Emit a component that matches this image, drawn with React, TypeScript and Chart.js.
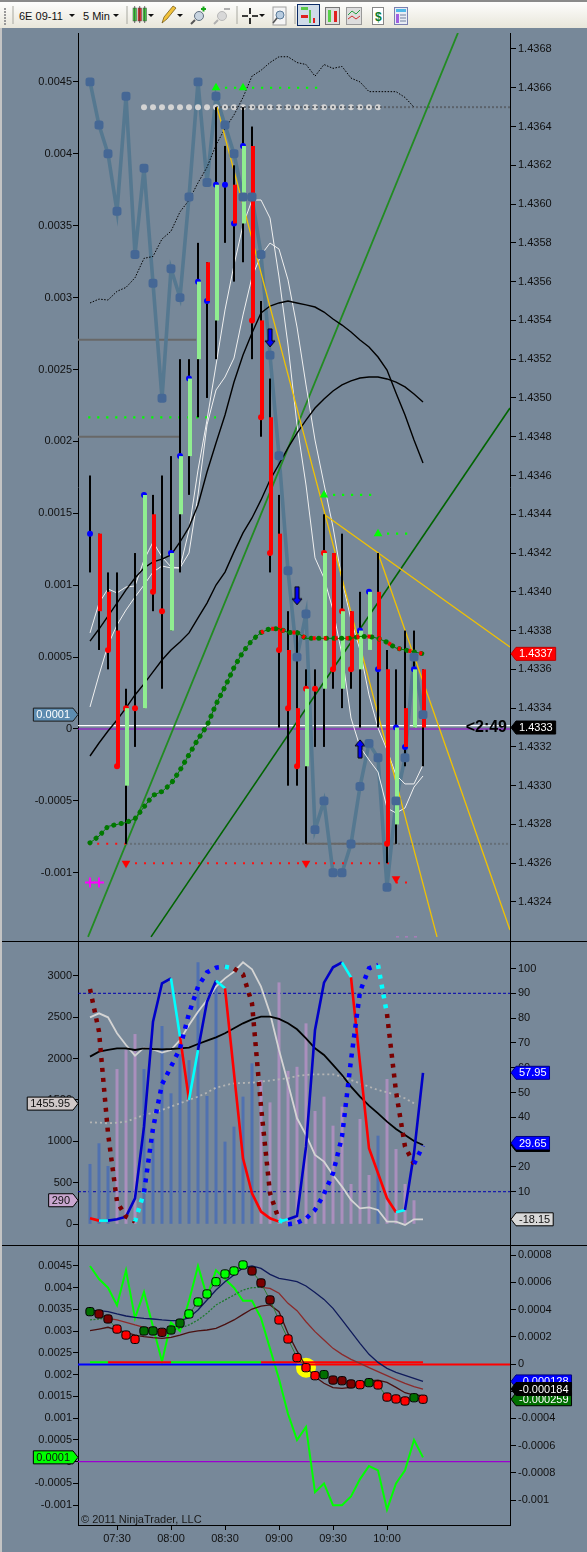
import React, { useEffect, useRef } from 'react';
import { Chart, registerables } from 'chart.js';
Chart.register(...registerables);

const barMinutes = [435,440,445,450,455,460,465,470,475,480,485,490,495,500,505,510,515,520,525,530,535,540,545,550,555,560,565,570,575,580,585,590,595,600,605,610,615,620];
const highs = [1.4346,1.4343,1.4341,1.4341,1.4335,1.4342,1.4345,1.4345,1.4346,1.4347,1.4352,1.4352,1.4358,1.4357,1.4365,1.4363,1.4362,1.4365,1.4364,1.4355,1.4351,1.4345,1.4339,1.4338,1.4336,1.4336,1.4344,1.4342,1.4343,1.4339,1.4340,1.4340,1.4342,1.4337,1.4336,1.4338,1.4338,1.4336];
const lows = [1.4341,1.4337,1.4336,1.4331,1.4327,1.4332,1.4334,1.4339,1.4335,1.4338,1.4341,1.4345,1.4349,1.4350,1.4352,1.4358,1.4356,1.4357,1.4352,1.4348,1.4341,1.4333,1.4330,1.4330,1.4327,1.4332,1.4332,1.4335,1.4334,1.4335,1.4333,1.4337,1.4333,1.4326,1.4327,1.4331,1.4333,1.4331];
const opens = [1.4343,1.4343,1.4340,1.4338,1.4330,1.4334,1.4334,1.4344,1.4339,1.4338,1.4344,1.4347,1.4352,1.4357,1.4354,1.4361,1.4361,1.4359,1.4363,1.4354,1.4349,1.4343,1.4337,1.4334,1.4331,1.4335,1.4335,1.4342,1.4335,1.4339,1.4336,1.4337,1.4340,1.4336,1.4328,1.4334,1.4333,1.4336];
const closes = [1.4343,1.4339,1.4337,1.4331,1.4334,1.4334,1.4345,1.4340,1.4339,1.4342,1.4347,1.4351,1.4356,1.4355,1.4361,1.4361,1.4359,1.4363,1.4354,1.4349,1.4342,1.4337,1.4334,1.4331,1.4335,1.4335,1.4342,1.4336,1.4339,1.4336,1.4338,1.4340,1.4336,1.4327,1.4333,1.4332,1.4336,1.4333];
const closeDotState = ['b','','r','r','r','r','b','r','r','b','b','b','b','b','b','b','b','b','r','r','r','r','r','r','r','r','r','r','r','r','b','b','b','r','b','b','b',''];
const momentum = [0.0045,0.0042,0.0040,0.0036,0.0044,0.0033,0.0039,0.0031,0.0023,0.0032,0.0030,0.0037,0.0045,0.0038,0.0044,0.0042,0.0040,0.0037,0.0037,0.0033,0.0026,0.0019,0.0011,0.0005,0.0008,-0.0007,-0.0005,-0.0010,-0.0010,-0.0008,-0.0004,-0.0001,-0.0002,-0.0011,-0.0005,-0.0002,0.0005,0.0001];
const upperDotted = [1.43549,1.43551,1.435505,1.43555,1.43557,1.43562,1.43572,1.43573,1.43582,1.43586,1.43596,1.43602,1.43611,1.43619,1.436305,1.43639,1.43646,1.43655,1.43666,1.43669,1.43673,1.43676,1.43676,1.43673,1.43672,1.43666,1.43672,1.4367,1.43671,1.43665,1.43663,1.43658,1.43658,1.43658,1.43658,1.43655,1.4365];
const fastAvg = [1.433746,1.433808,1.433875,1.433942,1.43401,1.434071,1.434123,1.434154,1.434169,1.43419,1.434257,1.434334,1.434448,1.434618,1.434768,1.434912,1.435082,1.435222,1.435335,1.435438,1.435474,1.43549,1.4355,1.43549,1.43548,1.435469,1.435443,1.435407,1.435376,1.43534,1.435299,1.435263,1.435211,1.435144,1.435026,1.434912,1.434783,1.434665];
const slowAvg = [1.433153,1.43322,1.433282,1.433339,1.433401,1.433468,1.433525,1.433587,1.433648,1.4337,1.433741,1.433788,1.433865,1.433942,1.434035,1.434102,1.434206,1.434304,1.434381,1.434474,1.434577,1.434659,1.434742,1.434819,1.434886,1.434948,1.434995,1.435036,1.435067,1.435088,1.435103,1.435108,1.435108,1.435098,1.435082,1.435057,1.43502,1.434979];
const whiteA = [1.433788,1.433942,1.434015,1.433994,1.434025,1.43403,1.434164,1.434257,1.43418,1.434128,1.434123,1.434319,1.434628,1.434886,1.43517,1.435454,1.435686,1.435892,1.436021,1.436021,1.435928,1.435624,1.435273,1.434861,1.434551,1.434175,1.434071,1.433906,1.433674,1.433349,1.4332,1.433133,1.433071,1.432885,1.432859,1.432885,1.432993,1.43305];
const whiteB = [1.433406,1.433571,1.433726,1.433829,1.433906,1.433973,1.434035,1.434102,1.434133,1.434123,1.434123,1.4342,1.4345,1.434861,1.435041,1.435108,1.435206,1.435428,1.435624,1.435737,1.435799,1.435768,1.435609,1.435366,1.435067,1.434783,1.434556,1.434334,1.434061,1.433855,1.4337,1.433468,1.433298,1.433184,1.433055,1.433009,1.433009,1.433107];
const signalAvg = [1.432705,1.43274,1.43279,1.4328,1.43281,1.43283,1.43289,1.43295,1.43297,1.43301,1.43308,1.43316,1.43324,1.43331,1.43342,1.43351,1.43361,1.43369,1.43375,1.43379,1.43381,1.43381,1.43379,1.43379,1.43376,1.43376,1.43376,1.43376,1.43376,1.43376,1.43377,1.43377,1.43376,1.43374,1.43371,1.4337,1.43369,1.43368];

const trendGreen = [[433.9,1.43222],[639.4,1.436883]];
const trendDarkGreen = [[468.9,1.43222],[668.33,1.434948]];
const trendYellowA = [[505.6,1.4365],[627.8,1.43222]];
const trendYellowB = [[565,1.4344],[668.33,1.433715]];
const trendYellowC = [[595,1.4342],[668.33,1.432256]];
const greenLevels = [[505,565,1.4366],[434,505,1.4349],[565,595,1.4345],[595,615,1.4343]];
const redLevels = [[434,455,1.4327],[455,605,1.4326],[605,615,1.4325]];
const greyLevels = [[428.33,494,1.4353],[428.33,485,1.4348],[555,605,1.4327]];
const upTriangles = [[505,1.4366],[520,1.4366],[565,1.4345],[595,1.4343]];
const downTriangles = [[455,1.4326],[555,1.4326],[605,1.43252]];
const crossMarks = [[435,1.4325],[440,1.4325]];
const downArrows = [[535,1.43531],[550,1.43398]];
const upArrows = [[585,1.43319]];
const pivotDotMinutes = [465,470,475,480,485,490,495,500,505,510,515,520,525,530,535,540,545,550,555,560,565,570,575,580,585,590,595];
const pivotLevel = 1.4365;
const lastPrice = 1.43331;

const volumeHist = [728,977,703,1873,2102,2295,1873,1037,2392,1580,2050,1980,3160,1548,2906,997,1178,1540,1942,1740,1471,2918,1850,1900,2424,1367,1540,1190,1420,486,1270,595,1069,1753,908,486,290,null];
const volumeState = 'bbbpppbbbbbbbbbbbbbpppppppppppppbppppp'.split('');
const stochK = [-0.72,-1.66,-1.66,-1.13,-0.05,7.34,36.24,78.57,94.03,96.04,72.52,46.99,67.15,86.64,95.1,92.01,57.74,23.47,9.36,1.96,-0.72,-2.07,-1.13,0.22,28.17,75.21,94.3,100.48,102.5,96.45,61.77,27.5,17.42,7.34,1.7,2.64,25.48,57.95];
const stochD = [91.74,74.54,33.55,5.99,-0.05,-2.07,9.76,35.56,53.3,60.43,67.82,81.93,92.68,98.46,100.34,100.75,99.94,97.66,85.96,44.3,9.36,-1.4,-3.14,-2.61,-0.86,2.64,9.09,17.42,32.2,63.12,90.67,100.08,101.42,81.66,50.35,28.17,21.18,28.58];
const kState = 'rcbbbbbbbcrcbbcrrrrrrcbbbbbbcrrrrrcbb'.split('');
const dState = 'dddddcbbbbbbbbbcdddddcbbbbbbbbbbcdddb'.split('');
const midBlack = [64.46,66.48,67.15,67.82,67.82,67.15,67.82,67.55,67.42,67.55,67.82,68.09,69.57,70.91,72.26,73.87,75.88,77.9,79.51,80.59,80.59,79.65,77.9,75.48,71.85,67.82,65.13,61.1,57.07,52.36,48.33,44.7,41.61,38.25,35.3,32.88,30.46,28.84];
const midLight = [80.32,81.93,80.32,73.87,69.16,64.86,68.09,67.42,66.07,67.15,71.18,77.23,82.6,87.31,92.68,96.04,98.73,102.5,99.67,92.68,81.93,67.15,53.71,39.6,32.88,24.81,22.12,16.75,12.04,6.67,3.31,3.71,2.64,-2.07,-2.07,-3.41,-1.13,-1.13];
const midDotted = [37.98,37.85,37.58,37.85,38.25,39.6,40.94,41.88,42.96,44.3,45.64,46.99,48.33,49.94,51.96,52.9,53.71,53.84,53.98,54.38,54.78,55.32,55.72,56.66,57.07,57.34,57.34,57.34,56.4,55.05,53.71,52.36,51.02,50.08,49.0,47.66,45.64];
const stochLevels = [90, 10];

const bandUpper = [0.000392,0.000392,0.000385,0.000368,0.000353,0.000343,0.000336,0.000331,0.000324,0.000319,0.000319,0.000341,0.000397,0.000471,0.000544,0.000605,0.000654,0.000708,0.000721,0.000703,0.000659,0.00063,0.000618,0.000605,0.000574,0.000525,0.000475,0.000409,0.000324,0.000238,0.000152,0.000071,0.000012,-0.000032,-0.000061,-0.000083,-0.000105,-0.000128];
const bandMiddle = [0.000324,0.000331,0.000336,0.000324,0.000306,0.000287,0.00027,0.000262,0.00025,0.00025,0.000262,0.000287,0.000324,0.000373,0.000434,0.000471,0.000507,0.000544,0.000561,0.000564,0.000556,0.00052,0.000446,0.000392,0.000311,0.000238,0.000176,0.000115,0.000071,0.000034,0.000005,-0.000027,-0.000056,-0.000086,-0.000115,-0.000142,-0.000167,-0.000184];
const bandLower = [0.000245,0.000257,0.00027,0.00025,0.000233,0.000213,0.000201,0.000194,0.000189,0.000196,0.000213,0.000233,0.000243,0.00025,0.000262,0.000292,0.000324,0.000365,0.000404,0.000426,0.000434,0.000385,0.000225,0.000096,-0.00002,-0.000093,-0.000142,-0.000174,-0.000179,-0.000172,-0.000142,-0.000125,-0.000118,-0.000135,-0.000172,-0.000211,-0.000228,-0.000233];
const macdDots = [0.000385,0.000368,0.000331,0.000257,0.000213,0.000181,0.000243,0.000243,0.000233,0.00025,0.000301,0.000368,0.000456,0.000515,0.000605,0.000662,0.000684,0.000728,0.000684,0.000596,0.000471,0.000324,0.000184,0.000047,-0.000027,-0.000086,-0.000078,-0.000118,-0.000123,-0.000147,-0.000152,-0.000137,-0.000154,-0.000243,-0.000257,-0.000272,-0.000248,-0.000259];
const macdState = ['g','d','d','r','r','r','g','g','d','g','g','l','l','l','l','l','l','l','d','d','d','r','r','r','r','r','g','d','d','d','r','g','r','r','r','r','g','r'];
const stripeState = 'ggrrrrrrrggggggggggrrrrrrrrrrrrrrrrrr'.split('');
const stripeValues = [0.000013,0.000013,0.000013,0.000013,0.000013,0.000013,0.000013,0.000013,0.000013,0.000013,0.000013,0.000013,0.000013,0.000013,0.000013,0.000013,0.000013,0.000013,0.000013,0.000013,0.000013,0.000013,0.000013,0.000013,0.000013,0.000013,0.000013,0.000013,0.000013,0.000013,0.000013,0.000013,0.000013,0.000013,0.000013,0.000013,0.000013,0.000013];
const crossoverMinute = [[555,-0.000027]];

const timeTicks = [450,480,510,540,570,600];
const momentumTicks = [0.0045,0.004,0.0035,0.003,0.0025,0.002,0.0015,0.001,0.0005,0,-0.0005,-0.001];
const priceTicks = [1.4368,1.4366,1.4364,1.4362,1.436,1.4358,1.4356,1.4354,1.4352,1.435,1.4348,1.4346,1.4344,1.4342,1.434,1.4338,1.4336,1.4334,1.4332,1.433,1.4328,1.4326,1.4324];
const volumeTicks = [3000,2500,2000,1500,1000,500,0];
const stochTicks = [100,90,80,70,60,50,40,30,20,10];
const macdTicks = [0.0008,0.0006,0.0004,0.0002,0,-0.0002,-0.0004,-0.0006,-0.0008,-0.001];

const FONT = '"Liberation Sans"';
const SIGN: any = { b: '#0000ff', r: '#ff0000', '': 'rgba(0,0,0,0)' };
const K_COL: any = { r: '#ff0000', c: '#00ffff', b: '#0000c8', d: '#7a0000' };
const D_COL: any = { d: '#7a0000', c: '#00ffff', b: '#0000ff' };
const DOT_COL: any = { g: '#006f00', d: '#7a0000', r: '#ff0000', l: '#00ff00' };
const STRIPE: any = { g: '#00ff00', r: '#ff0000' };

const at = (vals: any[]) => vals.map((y, i) => ({ x: barMinutes[i], y }));
const seg = (pairs: number[][]) => pairs.map(([x, y]) => ({ x, y }));
const line = (data: any[], yAxisID: string, color: string, width: number, extra: any = {}) => ({
  type: 'line', data, yAxisID, xAxisID: 'x', borderColor: color, borderWidth: width, pointRadius: 0, tension: 0, fill: false, ...extra,
});
const points = (data: any[], yAxisID: string, color: any, style: any, radius: number, extra: any = {}) => ({
  type: 'line', data, yAxisID, xAxisID: 'x', showLine: false, pointStyle: style, pointRadius: radius,
  pointBackgroundColor: color, pointBorderColor: color, pointBorderWidth: 0, ...extra,
});
const levelPair = ([a, b, p]: number[]) => [{ x: a, y: p }, { x: b, y: p }];

function makeArrow(up: boolean) {
  const c = document.createElement('canvas');
  c.width = 12; c.height = 20;
  const g = c.getContext('2d')!;
  g.save();
  if (up) { g.translate(0, 20); g.scale(1, -1); }
  g.beginPath();
  g.moveTo(4, 1); g.lineTo(8, 1); g.lineTo(8, 13); g.lineTo(11, 13); g.lineTo(6, 19); g.lineTo(1, 13); g.lineTo(4, 13); g.closePath();
  g.fillStyle = '#0000ff'; g.fill();
  g.strokeStyle = '#000'; g.lineWidth = 1; g.stroke();
  g.restore();
  return c;
}

function yScale(position: string, min: number, max: number, values: number[], fmt: any, width: number, tickLength: number, pad: number) {
  return {
    type: 'linear', position, min, max,
    afterBuildTicks: (s: any) => { s.ticks = values.map((value) => ({ value })); },
    afterFit: (s: any) => { s.width = width; s.paddingTop = 0; s.paddingBottom = 0; },
    border: { display: true, color: '#000', width: 1 },
    grid: { drawOnChartArea: false, drawTicks: true, tickLength, tickColor: '#000', tickWidth: 1 },
    ticks: { autoSkip: false, padding: pad, color: '#101010', font: { family: FONT, size: 11 }, callback: fmt },
  };
}
const xHidden = { type: 'linear', min: 428.33, max: 668.33, offset: false, display: false, grid: { offset: false } };
const fmtPlain = (v: number) => String(v);
const fmt4 = (v: number) => v.toFixed(4);

function drawTag(ctx: any, y: number, side: string, label: string, fill: string, text: string, stroke = '#000') {
  ctx.save();
  ctx.font = `11px ${FONT}`;
  const w = ctx.measureText(label).width + 6;
  const h = 13, tip = side === 'left' ? 78 : 511, dir = side === 'left' ? -1 : 1;
  ctx.beginPath();
  ctx.moveTo(tip, y);
  ctx.lineTo(tip + dir * 5, y - h / 2);
  ctx.lineTo(tip + dir * (5 + w), y - h / 2);
  ctx.lineTo(tip + dir * (5 + w), y + h / 2);
  ctx.lineTo(tip + dir * 5, y + h / 2);
  ctx.closePath();
  ctx.fillStyle = fill; ctx.fill();
  ctx.lineWidth = 1; ctx.strokeStyle = stroke; ctx.stroke();
  ctx.fillStyle = text; ctx.textBaseline = 'middle'; ctx.textAlign = 'left';
  ctx.fillText(label, side === 'left' ? tip - 5 - w + 3 : tip + 5 + 3, y + 0.5);
  ctx.restore();
}

function tagPlugin(tags: any[], extra?: (c: any) => void) {
  return {
    id: 'tags',
    afterDraw(c: any) {
      for (const t of tags) {
        const y = c.scales[t.axis].getPixelForValue(t.value);
        drawTag(c.ctx, y, t.axis === 'yL' ? 'left' : 'right', t.label, t.fill, t.text, t.stroke);
      }
      if (extra) extra(c);
    },
  };
}

const baseOptions = (scales: any) => ({
  responsive: false, animation: false, events: [], maintainAspectRatio: false,
  layout: { padding: 0, autoPadding: false },
  plugins: { legend: { display: false }, tooltip: { enabled: false }, title: { display: false } },
  scales,
});

export default function App() {
  const topRef = useRef<HTMLCanvasElement>(null);
  const midRef = useRef<HTMLCanvasElement>(null);
  const botRef = useRef<HTMLCanvasElement>(null);

  useEffect(() => {
    const topDatasets: any[] = [
      points(at(momentum), 'yL', '#456795', 'rectRounded', 5.2),
      points(seg(downArrows), 'yR', '#00f', makeArrow(false), 10),
      points(seg(upArrows), 'yR', '#00f', makeArrow(true), 10),
      points(seg(upTriangles), 'yR', '#00ff00', 'triangle', 5),
      points(seg(downTriangles), 'yR', '#ff0000', 'triangle', 5, { pointRotation: 180 }),
      points(seg(crossMarks), 'yR', '#ff00ff', 'cross', 5, { pointBorderWidth: 2 }),
      line(at(signalAvg.map((v, i) => (i >= 19 ? v : null))), 'yR', '#ff0000', 4, { borderDash: [3, 8] }),
      line(at(signalAvg), 'yR', '#007800', 5, { borderDash: [0.1, 7.5], borderCapStyle: 'round' }),
      line(at(signalAvg), 'yR', '#007800', 1),
      {
        type: 'bar', yAxisID: 'yR', xAxisID: 'x', grouped: false, barThickness: 4, borderWidth: 0, inflateAmount: 0,
        data: barMinutes.map((x, i) => ({ x: x + 0.55, y: [opens[i], closes[i]] })),
        backgroundColor: closes.map((c, i) => (c >= opens[i] ? '#90ee90' : '#ff0000')),
      },
      points(at(closes), 'yR', closeDotState.map((s) => SIGN[s]), 'circle', 3),
      {
        type: 'bar', yAxisID: 'yR', xAxisID: 'x', grouped: false, barThickness: 2, borderWidth: 0, inflateAmount: 0,
        data: barMinutes.map((x, i) => ({ x, y: [lows[i], highs[i]] })),
        backgroundColor: '#000000',
      },
      line(seg(trendYellowA), 'yR', '#f2c200', 1.3),
      line(seg(trendYellowB), 'yR', '#f2c200', 1.3),
      line(seg(trendYellowC), 'yR', '#f2c200', 1.3),
      line(at(fastAvg), 'yR', '#000000', 1.4),
      line(at(slowAvg), 'yR', '#000000', 1.4),
      line(at(whiteA), 'yR', '#f0f0f0', 1),
      line(at(whiteB), 'yR', '#f0f0f0', 1),
      line(at(upperDotted), 'yR', '#000000', 1, { borderDash: [1.5, 1.5] }),
      ...greenLevels.map((l) => line(levelPair(l), 'yR', '#00ff00', 2.2, { borderDash: [2.2, 6.8] })),
      ...redLevels.map((l) => line(levelPair(l), 'yR', '#ff1010', 2, { borderDash: [2, 7] })),
      line(seg(trendGreen), 'yR', '#228b22', 1.8),
      line(seg(trendDarkGreen), 'yR', '#006400', 1.6),
      line(levelPair([505, 668.33, pivotLevel]), 'yR', '#5c636b', 2, { borderDash: [2, 2] }),
      points(pivotDotMinutes.map((x) => ({ x, y: pivotLevel })), 'yR', '#d3d3d3', 'circle', 3),
      line(at(momentum), 'yL', '#557890', 3.6, { borderJoinStyle: 'miter' }),
      ...greyLevels.map((l) => line(levelPair(l), 'yR', '#686868', 2)),
      line(levelPair([455, 668.33, 1.4327]), 'yR', '#666f78', 2, { borderDash: [2, 2] }),
      line(levelPair([605, 620, 1.43222]), 'yR', '#c078c8', 1, { borderDash: [3, 6] }),
      line(levelPair([428.33, 668.33, lastPrice]), 'yR', '#ffffff', 1.2),
      line(levelPair([428.33, 668.33, 0]), 'yL', '#9a00d0', 1.1),
    ];
    const top = new Chart(topRef.current as any, {
      type: 'line',
      data: { datasets: topDatasets },
      options: baseOptions({
        x: xHidden,
        yL: yScale('left', -0.0014743, 0.00484, momentumTicks, fmtPlain, 78, 5, 1),
        yR: yScale('right', 1.4321988, 1.4368825, priceTicks, fmt4, 77, 6, 2),
      }) as any,
      plugins: [tagPlugin([
        { axis: 'yL', value: 0.0001, label: '0.0001', fill: '#5d8cb0', text: '#ffffff', stroke: '#1a1a1a' },
        { axis: 'yR', value: 1.43368, label: '1.4337', fill: '#ff0000', text: '#ffffff', stroke: '#c00000' },
        { axis: 'yR', value: 1.4333, label: '1.4333', fill: '#000000', text: '#ffffff', stroke: '#000' },
      ], (c: any) => {
        const g = c.ctx;
        g.save();
        g.font = `bold 16px ${FONT}`;
        g.textAlign = 'right'; g.textBaseline = 'middle'; g.fillStyle = '#000';
        g.fillText('<2:49', 507, c.scales.yR.getPixelForValue(1.4333) + 0.5);
        g.restore();
      })] as any,
    });

    const midDatasets: any[] = [
      line(at(stochD), 'yR', '#0000ff', 4.5, {
        borderDash: [4, 6],
        segment: { borderColor: (ctx: any) => D_COL[dState[ctx.p0DataIndex]] },
      }),
      line(at(stochK), 'yR', '#0000c8', 2.6, {
        segment: { borderColor: (ctx: any) => K_COL[kState[ctx.p0DataIndex]] },
      }),
      line(at(midBlack), 'yR', '#000000', 1.8),
      line(at(midLight), 'yR', '#d4d4d4', 1.8),
      line(at(midDotted), 'yR', '#b4b4b4', 1.8, { borderDash: [2, 3] }),
      {
        type: 'bar', yAxisID: 'yL', xAxisID: 'x', grouped: false, barThickness: 3, borderWidth: 0, inflateAmount: 0,
        data: at(volumeHist),
        backgroundColor: volumeState.map((s) => (s === 'b' ? '#5071b0' : '#aa8fbd')),
      },
      ...stochLevels.map((l) => line(levelPair([428.33, 668.33, l]), 'yR', '#0000b0', 1, { borderDash: [3, 2] })),
    ];
    const mid = new Chart(midRef.current as any, {
      type: 'line',
      data: { datasets: midDatasets },
      options: baseOptions({
        x: xHidden,
        yL: yScale('left', -249.7, 3417.4, volumeTicks, fmtPlain, 78, 5, 1),
        yR: yScale('right', -11.49, 111.09, stochTicks, fmtPlain, 77, 6, 2),
      }) as any,
      plugins: [tagPlugin([
        { axis: 'yL', value: 1455.95, label: '1455.95', fill: '#cfc8c8', text: '#111' },
        { axis: 'yL', value: 290, label: '290', fill: '#c9a6cf', text: '#111' },
        { axis: 'yR', value: 57.95, label: '57.95', fill: '#0000ff', text: '#ffffff', stroke: '#000080' },
        { axis: 'yR', value: 28.84, label: '28.84', fill: '#000000', text: '#ffffff' },
        { axis: 'yR', value: 29.65, label: '29.65', fill: '#0000ff', text: '#ffffff', stroke: '#000080' },
        { axis: 'yR', value: -1.13, label: '-18.15', fill: '#d8d8d8', text: '#111' },
      ])] as any,
    });

    const botDatasets: any[] = [
      line(at(macdDots), 'yR', '#2e7d32', 1, {
        pointStyle: 'rectRounded', pointRadius: 4.8, pointBorderColor: '#000', pointBorderWidth: 1,
        pointBackgroundColor: macdState.map((s) => DOT_COL[s]),
      }),
      line(at(bandUpper), 'yR', '#0f1a5a', 1.3),
      line(at(bandMiddle), 'yR', '#8b2a2a', 1.3, {
        segment: {
          borderColor: (ctx: any) => (stripeState[ctx.p0DataIndex] === 'g' ? '#1e7a2e' : '#8b2a2a'),
          borderDash: (ctx: any) => (stripeState[ctx.p0DataIndex] === 'g' ? [2, 1.5] : []),
        },
      }),
      line(at(bandLower), 'yR', '#4a1010', 1.3),
      line(at(stripeValues), 'yR', '#ff0000', 2, {
        segment: { borderColor: (ctx: any) => STRIPE[stripeState[ctx.p0DataIndex]] },
      }),
      line(levelPair([555, 668.33, -0.000004]), 'yR', '#ff0000', 2),
      line(levelPair([428.33, 555, -0.000004]), 'yR', '#0000ff', 2),
      points(seg(crossoverMinute), 'yR', '#ffff00', 'circle', 10),
      line(at(momentum), 'yL', '#00ff00', 2, { borderJoinStyle: 'miter' }),
      line(levelPair([428.33, 668.33, 0]), 'yL', '#9a00d0', 1.2),
    ];
    const bot = new Chart(botRef.current as any, {
      type: 'line',
      data: { datasets: botDatasets },
      options: baseOptions({
        x: {
          type: 'linear', min: 428.33, max: 668.33, offset: false, position: 'bottom',
          afterBuildTicks: (s: any) => { s.ticks = timeTicks.map((value) => ({ value })); },
          afterFit: (s: any) => { s.height = 27; s.paddingLeft = 0; s.paddingRight = 0; },
          border: { display: true, color: '#000', width: 1 },
          grid: { drawOnChartArea: false, drawTicks: true, tickLength: 5, tickColor: '#000', offset: false },
          ticks: {
            autoSkip: false, maxRotation: 0, padding: 2, color: '#101010', font: { family: FONT, size: 11 },
            callback: (v: number) => `${String(Math.floor(v / 60)).padStart(2, '0')}:${String(v % 60).padStart(2, '0')}`,
          },
        },
        yL: yScale('left', -0.0014552, 0.0049816, momentumTicks, fmtPlain, 78, 5, 1),
        yR: yScale('right', -0.0011838, 0.000875, macdTicks, fmtPlain, 77, 6, 2),
      }) as any,
      plugins: [tagPlugin([
        { axis: 'yL', value: 0.0001, label: '0.0001', fill: '#00ff00', text: '#111' },
        { axis: 'yR', value: -0.000128, label: '-0.000128', fill: '#0000ff', text: '#ffffff', stroke: '#000080' },
        { axis: 'yR', value: -0.000259, label: '-0.000259', fill: '#006f00', text: '#ffffff' },
        { axis: 'yR', value: -0.000184, label: '-0.000184', fill: '#000000', text: '#ffffff' },
      ], (c: any) => {
        const g = c.ctx;
        g.save();
        g.font = `11px ${FONT}`;
        g.fillStyle = '#1a1a1a'; g.textAlign = 'left'; g.textBaseline = 'alphabetic';
        g.fillText('© 2011 NinjaTrader, LLC', 81, 1523 - 1245);
        g.restore();
      })] as any,
    });
    return () => { top.destroy(); mid.destroy(); bot.destroy(); };
  }, []);

  const abs = (left: number, top: number, width: number, height: number, background: string): React.CSSProperties =>
    ({ position: 'absolute', left, top, width, height, background });
  const caret = (x: number) => <path d={`M${x - 3} 14 h6 l-3 3 z`} fill="#111" />;
  const sep = (x: number) => <line x1={x} x2={x} y1={6} y2={24} stroke="#a8a8a0" />;

  return (
    <div style={{ position: 'absolute', left: 0, top: 0, width: 587, height: 1552, background: '#778899', overflow: 'hidden' }}>
      <svg width={587} height={28} style={{ position: 'absolute', left: 0, top: 0, display: 'block' }}>
        <defs>
          <linearGradient id="tb" x1="0" x2="0" y1="0" y2="1">
            <stop offset="0" stopColor="#ffffff" />
            <stop offset="1" stopColor="#e8e6da" />
          </linearGradient>
        </defs>
        <rect x={0} y={0} width={587} height={28} fill="url(#tb)" />
        <rect x={0} y={0} width={587} height={2} fill="#8a8a8a" />
        <g fill="#999">{[8, 11, 14, 17, 20, 23].map((y) => <rect key={y} x={4} y={y} width={2} height={2} />)}</g>
        {sep(13)}
        <text x={19} y={20} fontFamily="Liberation Sans" fontSize={11} fill="#111">6E 09-11</text>
        {caret(72)}
        <text x={83} y={20} fontFamily="Liberation Sans" fontSize={11} fill="#111">5 Min</text>
        {caret(116)}
        {sep(127)}
        <g>
          <rect x={133} y={8} width={3.5} height={13} fill="#44dd44" stroke="#444" strokeWidth={0.5} />
          <rect x={138} y={8} width={3.5} height={13} fill="#ee3333" stroke="#444" strokeWidth={0.5} />
          <rect x={143} y={8} width={3.5} height={13} fill="#44dd44" stroke="#444" strokeWidth={0.5} />
          <path d="M134.7 6V23M139.7 6V23M144.7 6V23" stroke="#333" strokeWidth={0.7} />
        </g>
        {caret(151)}
        <path d="M162 23 l2 -6 l9 -11 l3 2 l-9 11 z" fill="#f2c23a" stroke="#6a5010" strokeWidth={0.7} />
        {caret(180)}
        <circle cx={199} cy={16} r={4.5} fill="#c8d4e0" stroke="#607080" />
        <line x1={195} y1={20} x2={191} y2={24} stroke="#555" strokeWidth={2} />
        <path d="M201 9 h5 M203.5 6.5 v5" stroke="#18a818" strokeWidth={2} />
        <circle cx={222} cy={16} r={4.5} fill="#d8d8d8" stroke="#b8b8b8" />
        <line x1={218} y1={20} x2={214} y2={24} stroke="#b0b0b0" strokeWidth={2} />
        <path d="M224 9 h6" stroke="#b0b0b0" strokeWidth={2} />
        {sep(237)}
        <path d="M242 16 h6 M252 16 h6 M250 8 v6 M250 18 v6" stroke="#000" strokeWidth={1.6} />
        {caret(262)}
        <rect x={273} y={7} width={13} height={18} fill="#f4f4f4" stroke="#a0a0a0" />
        <circle cx={280} cy={15} r={4} fill="#b8cce0" stroke="#5a7a98" />
        <line x1={277} y1={18} x2={273} y2={23} stroke="#555" strokeWidth={1.6} />
        {sep(295)}
        <rect x={297.5} y={4.5} width={22} height={21} fill="#cfdbe8" stroke="#0a2a66" strokeWidth={1} />
        <rect x={301} y={7} width={7} height={3} fill="#58c848" />
        <rect x={301} y={15} width={7} height={3} fill="#e02020" />
        <rect x={309} y={10} width={2} height={13} fill="#58c848" />
        <rect x={313} y={18} width={2} height={5} fill="#e02020" />
        <rect x={325.5} y={7.5} width={14} height={17} fill="#ddd" stroke="#777" />
        <rect x={328} y={10} width={3} height={12} fill="#58d048" />
        <rect x={334} y={11} width={3} height={11} fill="#e02020" />
        <rect x={346.5} y={7.5} width={15} height={17} fill="#ddd" stroke="#999" />
        <path d="M348 15 l4 -4 l4 3 l4 -4" fill="none" stroke="#22a040" />
        <path d="M348 19 l4 -3 l4 3 l4 -3" fill="none" stroke="#d03030" />
        <rect x={372.5} y={7.5} width={11} height={17} fill="#fff" stroke="#888" />
        <text x={375} y={21} fontFamily="Liberation Sans" fontSize={12} fontWeight="bold" fill="#0a7a2a">$</text>
        <rect x={394.5} y={7.5} width={13} height={17} fill="#e8ecf4" stroke="#7a80b0" />
        <rect x={396} y={9} width={10} height={3} fill="#50b8e8" />
        <rect x={396} y={14} width={3} height={9} fill="#a060e0" />
        <path d="M400 15 h6 M400 18 h6 M400 21 h6" stroke="#7080a0" />
      </svg>
      <div style={abs(0, 28, 2, 1524, '#c4c4c4')} />
      <canvas ref={topRef} width={587} height={908} style={{ position: 'absolute', left: 0, top: 33, display: 'block' }} />
      <canvas ref={midRef} width={587} height={304} style={{ position: 'absolute', left: 0, top: 941, display: 'block' }} />
      <canvas ref={botRef} width={587} height={307} style={{ position: 'absolute', left: 0, top: 1245, display: 'block' }} />
      <div style={abs(2, 941, 585, 1, '#000')} />
      <div style={abs(2, 1245, 585, 1, '#000')} />
    </div>
  );
}
